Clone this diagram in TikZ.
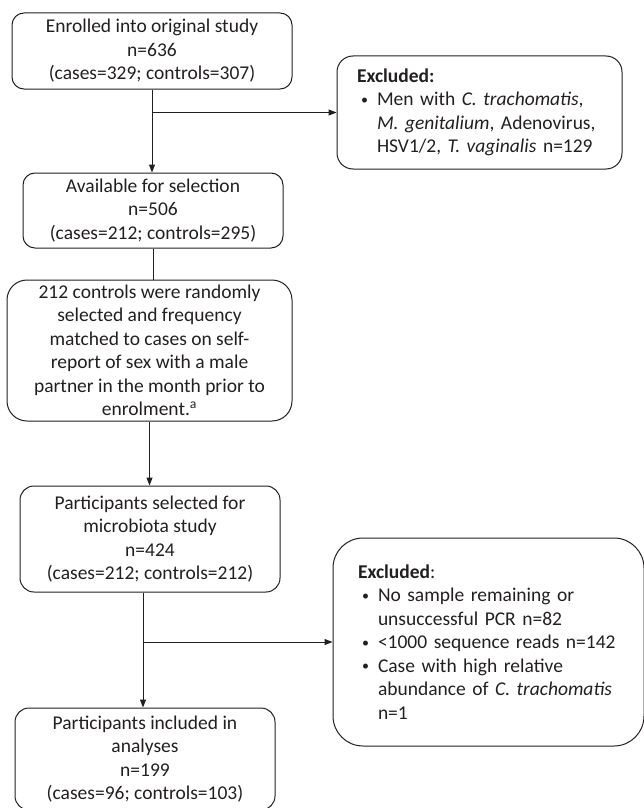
\documentclass[tikz,border=0pt]{standalone}
\usepackage{fontspec}
\setmainfont{Carlito}
\usetikzlibrary{arrows.meta}
\definecolor{ink}{HTML}{231F20}
\newcommand{\bul}{\makebox[20pt][l]{\hspace{4pt}\raisebox{1.8pt}{\fontsize{14}{14}\selectfont •}}}
\begin{document}
\begin{tikzpicture}[x=1pt,y=-1pt,
  box/.style={draw=ink, line width=1pt, rounded corners=12pt, align=center, inner sep=0pt, text=ink, font=\fontsize{19.5}{23.5}\selectfont},
  exbox/.style={box, align=left},
  arr/.style={draw=ink, line width=1pt, -{Triangle[length=8pt,width=6pt]}},
  ln/.style={draw=ink, line width=1pt}]
\useasboundingbox (0,0) rectangle (643,808);
\node[box, minimum width=280pt, minimum height=76pt] (enr) at (152,51)
  {Enrolled into original study\\ n=636\\ (cases=329; controls=307)};
\node[box, minimum width=260pt, minimum height=75pt] (avail) at (153,210.5)
  {Available for selection\\ n=506\\ (cases=212; controls=295)};
\node[box, rounded corners=20pt, minimum width=285pt, minimum height=141pt] (sel) at (149.5,350.5)
  {212 controls were randomly\\ selected and frequency\\ matched to cases on self-\\ report of sex with a male\\ partner in the month prior to\\ enrolment.\textsuperscript{a}};
\node[box, rounded corners=14pt, minimum width=260pt, minimum height=106pt] (part) at (150,539)
  {Participants selected for\\ microbiota study\\ n=424\\ (cases=212; controls=212)};
\node[box, rounded corners=14pt, minimum width=260pt, minimum height=102pt] (incl) at (145,759)
  {Participants included in\\ analyses\\ n=199\\ (cases=96; controls=103)};
\node[exbox, rounded corners=16pt, inner xsep=20pt, text width=245pt, minimum height=113pt] (ex1) at (479.5,112.5)
  {\textbf{Excluded:}\\
   \bul Men with \textit{C. trachomatis},\\
   \hspace*{20pt}\textit{M. genitalium}, Adenovirus,\\
   \hspace*{20pt}HSV1/2, \textit{T. vaginalis} n=129};
\node[exbox, rounded corners=30pt, inner xsep=25pt, text width=261pt, minimum height=208pt] (ex2) at (488.5,642)
  {\textbf{Excluded}:\\
   \bul No sample remaining or\\
   \hspace*{20pt}unsuccessful PCR n=82\\
   \bul <1000 sequence reads n=142\\
   \bul Case with high relative\\
   \hspace*{20pt}abundance of \textit{C. trachomatis}\\
   \hspace*{20pt}n=1};
\draw[arr] (enr.south) -- (enr.south |- avail.north);
\coordinate (b1) at (enr.south |- ex1.west);
\draw[arr] (b1) -- (ex1.west);
\draw[ln] (avail.south) -- (avail.south |- sel.north);
\draw[arr] (sel.south) -- (sel.south |- part.north);
\coordinate (p2) at ([xshift=-7pt]part.south);
\draw[arr] (p2) -- (p2 |- incl.north);
\coordinate (b2) at (p2 |- ex2.west);
\draw[arr] (b2) -- (ex2.west);
\end{tikzpicture}
\end{document}
